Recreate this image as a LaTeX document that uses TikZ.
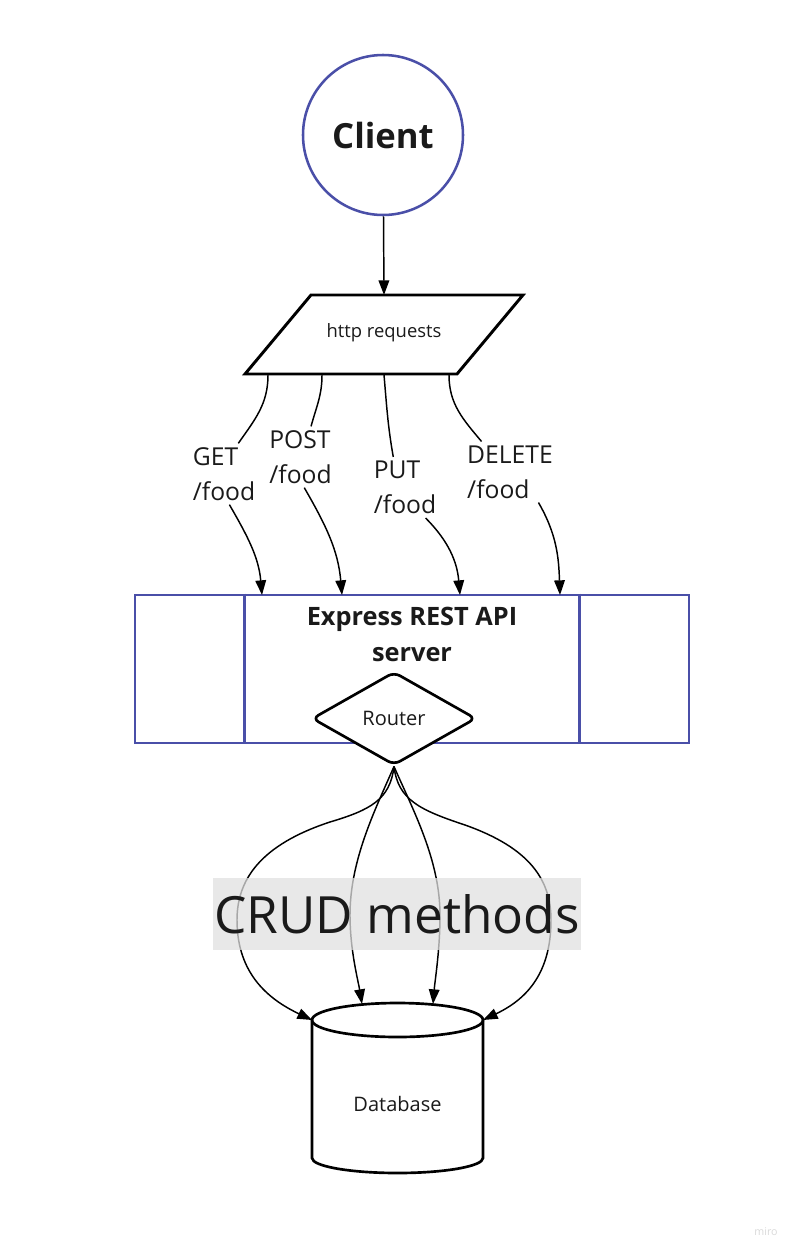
\documentclass[tikz,border=0pt]{standalone}
\usepackage{fontspec}
\setmainfont{Open Sans}
\usetikzlibrary{shapes.geometric,arrows.meta,positioning,calc}

\definecolor{miroblue}{RGB}{74,79,168}
\definecolor{inkgray}{RGB}{26,26,26}
\definecolor{crudgray}{RGB}{224,224,224}

\tikzset{
	conn/.style={line width=1.1pt, -{Triangle[length=11pt,width=8pt]}},
	link/.style={line width=1.1pt},
	reqlabel/.style={align=left, inner sep=3pt, text=inkgray, font=\fontsize{18.5}{26}\selectfont},
}

\begin{document}
\begin{tikzpicture}[x=0.75pt, y=0.75pt]

\useasboundingbox (0,0) rectangle (797,-1253);

% client and requests
\node[circle, draw=miroblue, line width=1.9pt, minimum size=120pt, text=inkgray, font=\bfseries\fontsize{26}{30}\selectfont] (client) at (383,-135) {Client};

\draw[line width=2.2pt] (311,-295) -- (523,-295) -- (457,-374) -- (245,-374) -- cycle;
\node[text=inkgray, font=\fontsize{13.8}{16}\selectfont] (http) at (384,-333) {http requests};
\coordinate (httptop) at (384,-295);
\coordinate (hget) at (268,-375);
\coordinate (hpost) at (322,-375);
\coordinate (hput) at (384,-375);
\coordinate (hdel) at (449,-375);

\draw[conn] (client) -- (httptop);

% server
\node[draw=miroblue, line width=2.2pt, minimum width=415.5pt, minimum height=111pt, inner sep=0pt] (server) at (412,-669) {};
\draw[miroblue, line width=2.2pt] ($(server.north west)!0.2!(server.north east)$) -- ($(server.south west)!0.2!(server.south east)$);
\draw[miroblue, line width=2.2pt] ($(server.north west)!0.8!(server.north east)$) -- ($(server.south west)!0.8!(server.south east)$);
\node[below=9.75pt of server.north, inner sep=0pt, align=center, text=inkgray, font=\bfseries\fontsize{19}{27}\selectfont] (title) {Express REST API\\server};

\coordinate (sget) at (262,-595);
\coordinate (spost) at (342,-595);
\coordinate (sput) at (460,-595);
\coordinate (sdel) at (560,-595);

% request labels
\node[reqlabel] (get) at (224,-474) {GET\\/food};
\node[reqlabel] (post) at (300.5,-457) {POST\\/food};
\node[reqlabel] (put) at (405,-487.5) {PUT\\/food};
\node[reqlabel] (del) at (510,-472) {DELETE\\/food};

\draw[link] (hget) to[out=-90, in=55] (get.65);
\draw[conn] (get.-80) to[out=-60, in=95] (sget);
\draw[link] (hpost) to[out=-90, in=75] (post.71);
\draw[conn] (post.-83) to[out=-60, in=95] (spost);
\draw[link] (hput) to[out=-85, in=100] (put.111);
\draw[conn] (put.-56) to[out=-45, in=95] (sput);
\draw[link] (hdel) to[out=-90, in=130] (del.133);
\draw[conn] (del.-47) to[out=-60, in=92] (sdel);

\node[diamond, draw, fill=white, line width=2pt, rounded corners=5pt, aspect=1.76, minimum width=123pt, minimum height=70pt, inner sep=0pt, text=inkgray, font=\fontsize{15}{18}\selectfont] (router) at (394,-718.5) {Router};

% database
\draw[line width=2pt, fill=white] (312,-1020) -- (312,-1158) arc[start angle=180, end angle=360, x radius=85.5, y radius=15] -- (483,-1020) arc[start angle=0, end angle=180, x radius=85.5, y radius=17] -- cycle;
\draw[line width=2pt] (312,-1020) arc[start angle=180, end angle=360, x radius=85.5, y radius=17];
\node[text=inkgray, font=\fontsize{15}{18}\selectfont] (db) at (397.5,-1104) {Database};
\coordinate (dbleft) at (312,-1020);
\coordinate (dbright) at (483,-1020);
\coordinate (dbtl) at (362,-1004);
\coordinate (dbtr) at (433,-1004);

\draw[conn] (router.south) .. controls (390,-800) and (370,-810) .. (330,-822) .. controls (260,-845) and (237,-880) .. (237,-920) .. controls (237,-975) and (270,-1000) .. (dbleft);
\draw[conn] (router.south) .. controls (375,-810) and (350,-860) .. (350,-915) .. controls (350,-950) and (358,-980) .. (dbtl);
\draw[conn] (router.south) .. controls (413,-810) and (440,-860) .. (440,-915) .. controls (440,-950) and (435,-980) .. (dbtr);
\draw[conn] (router.south) .. controls (398,-800) and (420,-810) .. (465,-825) .. controls (530,-848) and (551,-880) .. (551,-920) .. controls (551,-975) and (525,-1000) .. (dbright);

\node[fill=crudgray, fill opacity=0.75, text opacity=1, text=inkgray, minimum width=276pt, minimum height=54pt, inner sep=0pt, font=\fontsize{38.5}{46}\selectfont] (crud) at (397,-914) {CRUD methods};

\node[text=black!15, font=\fontsize{8}{10}\selectfont] (miro) at (766,-1232) {miro};

\end{tikzpicture}
\end{document}
